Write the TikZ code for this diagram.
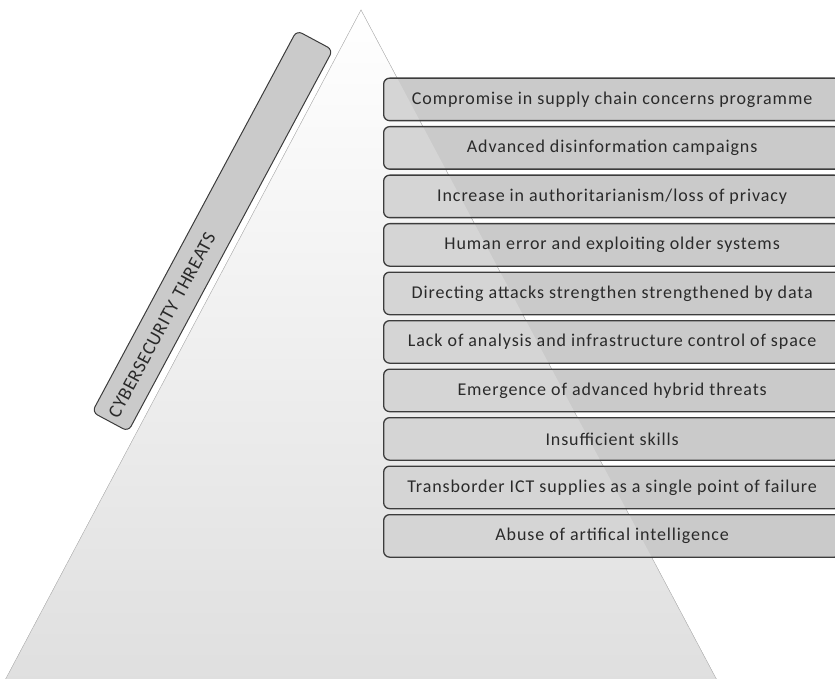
\documentclass[tikz,border=0pt]{standalone}
\usepackage{fontspec}
\setmainfont{Carlito}
\usetikzlibrary{positioning}
\definecolor{threatFill}{HTML}{CACACA}
\definecolor{threatBorder}{HTML}{3C3C3C}
\definecolor{threatText}{HTML}{2A2A2A}
\definecolor{pyramidEdge}{HTML}{C4C4C4}
\definecolor{pyramidBase}{HTML}{DFDFDF}

\begin{document}
\begin{tikzpicture}[x=1pt, y=-1pt,
    threat/.style={
        rectangle, draw=threatBorder, fill=threatFill,
        minimum width=457pt, minimum height=42.5pt,
        text centered, rounded corners=6pt, inner sep=0pt,
        line width=1.3pt, text=threatText,
        font=\fontsize{18}{20}\selectfont\addfontfeature{LetterSpace=5}
        ,
        path picture={\fill[white, fill opacity=0.22] (apex) -- (baseL) -- (baseR) -- cycle;}
    },
    heading/.style={
        rectangle, draw=threatBorder, fill=threatFill,
        minimum width=433pt, minimum height=41pt,
        text width=421pt, align=left, inner xsep=6pt,
        rounded corners=6pt, line width=1pt, text=threatText,
        font=\fontsize{19}{21}\selectfont\addfontfeature{LetterSpace=3}
    }
]
  \useasboundingbox (0,0) rectangle (835,679);

  % Pyramid
  \coordinate (apex) at (361,10);
  \coordinate (baseL) at (2,686);
  \coordinate (baseR) at (720,686);
  \fill[top color=white, bottom color=pyramidBase] (apex) -- (baseL) -- (baseR) -- cycle;
  \draw[pyramidEdge, line width=0.5pt] (baseL) -- (apex) -- (baseR);

  % Heading
  \node[heading, rotate=61.8] (cyber) at (212.5,231) {CYBERSECURITY THREATS};

  % Threats
  \node[threat, anchor=north west] (supply) at (383,77.5) {Compromise in supply chain concerns programme};
  \node[threat, below=4.7pt of supply] (disinfo) {Advanced disinformation campaigns};
  \node[threat, below=4.7pt of disinfo] (privacy) {Increase in authoritarianism/loss of privacy};
  \node[threat, below=4.7pt of privacy] (human) {Human error and exploiting older systems};
  \node[threat, below=4.7pt of human] (attacks) {Directing attacks strengthen strengthened by data};
  \node[threat, below=4.7pt of attacks] (space) {Lack of analysis and infrastructure control of space};
  \node[threat, below=4.7pt of space] (hybrid) {Emergence of advanced hybrid threats};
  \node[threat, below=4.7pt of hybrid] (skills) {Insufficient skills};
  \node[threat, below=4.7pt of skills] (ict) {Transborder ICT supplies as a single point of failure};
  \node[threat, below=4.7pt of ict] (ai) {Abuse of artifical intelligence};

\end{tikzpicture}
\end{document}
